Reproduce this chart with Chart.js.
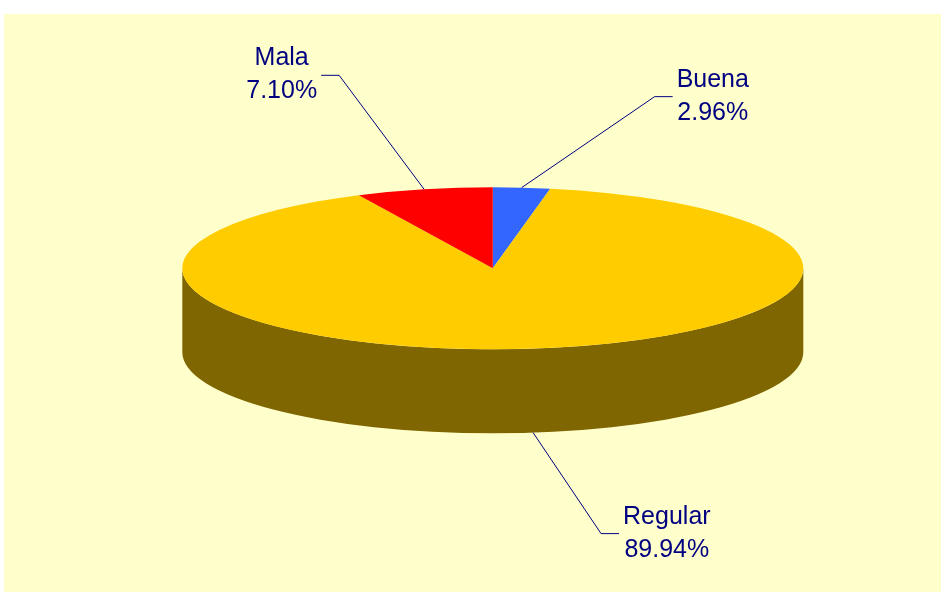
<!DOCTYPE html>
<html><head><meta charset="utf-8">
<script src="https://cdn.jsdelivr.net/npm/chart.js@4/dist/chart.umd.min.js"></script>
<style>html,body{margin:0;padding:0;background:#fff;overflow:hidden}canvas{display:block}</style>
</head><body>
<canvas id="c" width="941" height="592"></canvas>
<script>
// ---- data ----
const categories = ['Buena', 'Regular', 'Mala'];
const shares = [2.96, 89.94, 7.10];
const sliceColors = ['#3366FF', '#FFCC00', '#FF0000'];

// ---- 3D projection / layout (not data) ----
const view = { cx: 492.8, cy: 268.3, rx: 310.5, ry: 81, depth: 84 };
const labelLayout = [ { dx: 133, dy: -91 }, { dx: 68, dy: 101 }, { dx: -85, dy: -114 } ];
const textColor = '#000080';
const fontSpec = '25px "Liberation Sans", Arial, sans-serif';

function darker(hex) {
  const n = parseInt(hex.slice(1), 16);
  const r = Math.round(((n >> 16) & 255) / 2), g = Math.round(((n >> 8) & 255) / 2), b = Math.round((n & 255) / 2);
  return 'rgb(' + r + ',' + g + ',' + b + ')';
}

const pie3d = {
  id: 'pie3d',
  beforeDraw(chart) {
    const ctx = chart.ctx;
    ctx.save();
    ctx.fillStyle = '#FFFFFF';
    ctx.fillRect(0, 0, chart.width, chart.height);
    ctx.fillStyle = '#FFFFCC';
    ctx.fillRect(4, 14, chart.width - 4, chart.height - 14);
    ctx.restore();
  },
  beforeDatasetsDraw(chart) {
    const ctx = chart.ctx;
    const meta = chart.getDatasetMeta(0);
    // side walls (front half only)
    meta.data.forEach((arc, i) => {
      const p = arc.getProps(['startAngle', 'endAngle'], true);
      for (let k = -1; k <= 1; k++) {
        const lo = Math.max(p.startAngle, 2 * Math.PI * k);
        const hi = Math.min(p.endAngle, 2 * Math.PI * k + Math.PI);
        if (hi <= lo) continue;
        ctx.save();
        ctx.beginPath();
        ctx.ellipse(view.cx, view.cy, view.rx, view.ry, 0, lo, hi, false);
        ctx.ellipse(view.cx, view.cy + view.depth, view.rx, view.ry, 0, hi, lo, true);
        ctx.closePath();
        ctx.fillStyle = darker(sliceColors[i]);
        ctx.fill();
        ctx.restore();
      }
    });
    const a0 = meta.data[0].getProps(['x', 'y', 'outerRadius'], true);
    ctx.save();
    ctx.translate(view.cx, view.cy);
    ctx.scale(view.rx / a0.outerRadius, view.ry / a0.outerRadius);
    ctx.translate(-a0.x, -a0.y);
  },
  afterDatasetsDraw(chart) {
    const ctx = chart.ctx;
    ctx.restore();
    const meta = chart.getDatasetMeta(0);
    ctx.save();
    ctx.font = fontSpec;
    ctx.textBaseline = 'alphabetic';
    ctx.textAlign = 'center';
    meta.data.forEach((arc, i) => {
      const p = arc.getProps(['startAngle', 'endAngle'], true);
      const mid = (p.startAngle + p.endAngle) / 2;
      let sx = view.cx + view.rx * Math.cos(mid);
      let sy = view.cy + view.ry * Math.sin(mid);
      if (Math.sin(mid) > 0) sy += view.depth;
      const lay = labelLayout[i];
      const ex = sx + lay.dx, ey = sy + lay.dy;
      const side = lay.dx >= 0 ? 1 : -1;
      const hx = ex + side * 18;
      ctx.strokeStyle = textColor;
      ctx.lineWidth = 1;
      ctx.beginPath();
      ctx.moveTo(sx, sy);
      ctx.lineTo(ex, ey);
      ctx.lineTo(hx, ey);
      ctx.stroke();
      const l1 = categories[i];
      const l2 = shares[i].toFixed(2) + '%';
      const w = Math.max(ctx.measureText(l1).width, ctx.measureText(l2).width);
      const tx = hx + side * (4 + w / 2);
      ctx.fillStyle = textColor;
      ctx.fillText(l1, tx, ey - 10);
      ctx.fillText(l2, tx, ey + 23);
    });
    ctx.restore();
  }
};

new Chart(document.getElementById('c'), {
  type: 'pie',
  data: {
    labels: categories,
    datasets: [{ data: shares, backgroundColor: sliceColors, borderWidth: 0, hoverOffset: 0 }]
  },
  options: {
    responsive: false,
    animation: false,
    rotation: 0,
    layout: { padding: 0 },
    plugins: { legend: { display: false }, tooltip: { enabled: false } }
  },
  plugins: [pie3d]
});
</script>
</body></html>
